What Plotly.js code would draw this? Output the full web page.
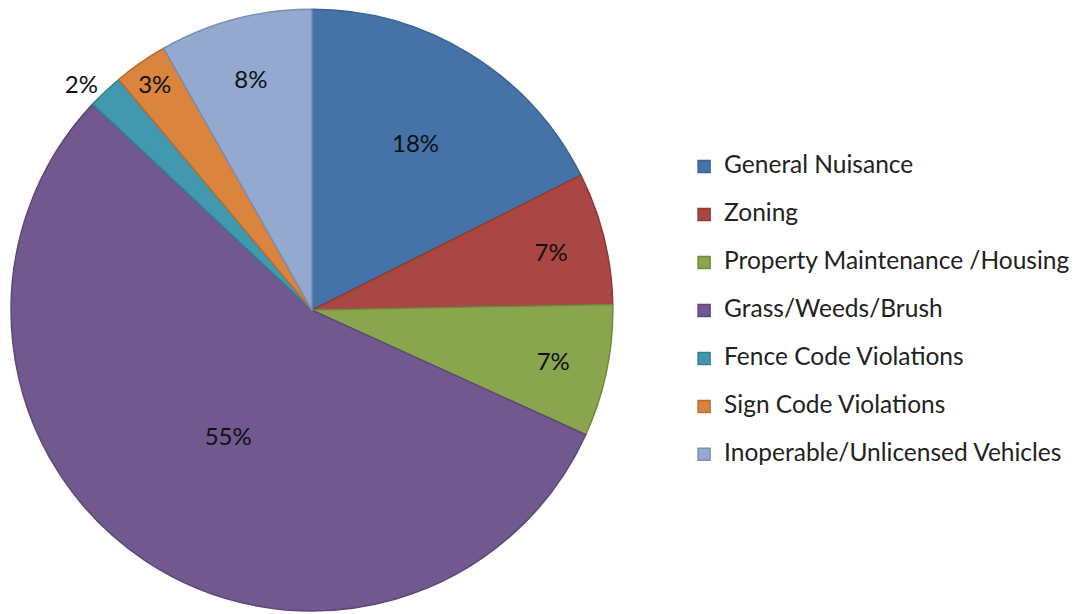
<!DOCTYPE html>
<html>
<head>
<meta charset="utf-8">
<script src="https://cdn.plot.ly/plotly-3.0.1.min.js"></script>
<style>html,body{margin:0;padding:0;background:#fff;}#chart{width:1079px;height:614px;}</style>
</head>
<body>
<div id="chart"></div>
<script>
const categories = ["General Nuisance", "Zoning", "Property Maintenance /Housing", "Grass/Weeds/Brush", "Fence Code Violations", "Sign Code Violations", "Inoperable/Unlicensed Vehicles"];
const shares = [17.6, 7.1, 7.1, 55.2, 1.9, 2.9, 8.2];
const percentLabels = ["18%", "7%", "7%", "55%", "2%", "3%", "8%"];
const sliceColors = ["#4572A7", "#AA4643", "#89A54E", "#71588F", "#4198AF", "#DB843D", "#93A9CF"];
const edgeColors = ["#3B6493", "#8F3A37", "#71893F", "#5D4877", "#357F92", "#B86E33", "#7A8FB2"];
const labelPositions = ["inside", "inside", "inside", "inside", "outside", "inside", "inside"];

const legendText = categories.map(c => '<span style="font-size:24.5px">' + c + '</span><br> ');

const fontFamily = 'Lato, "Open Sans", sans-serif';

const trace = {
  type: 'pie',
  labels: legendText,
  values: shares,
  text: percentLabels,
  textinfo: 'text',
  hoverinfo: 'label+percent',
  textposition: labelPositions,
  insidetextorientation: 'horizontal',
  sort: false,
  direction: 'clockwise',
  rotation: 0,
  marker: { colors: sliceColors, line: { color: edgeColors, width: 1.5 } },
  textfont: { family: fontFamily, size: 24, color: '#111' },
  insidetextfont: { family: fontFamily, size: 24, color: '#111' },
  outsidetextfont: { family: fontFamily, size: 24, color: '#111' },
  domain: { x: [0.0102, 0.568], y: [0.0049, 0.985] },
  automargin: false
};

const layout = {
  width: 1079, height: 614,
  margin: { l: 0, r: 0, t: 0, b: 0 },
  paper_bgcolor: '#fff',
  plot_bgcolor: '#fff',
  showlegend: true,
  legend: {
    x: 0.634, xanchor: 'left', y: 0.476, yanchor: 'middle',
    valign: 'top',
    font: { family: fontFamily, size: 17.3, color: '#222' },
    bgcolor: 'rgba(0,0,0,0)'
  }
};

Plotly.newPlot('chart', [trace], layout, { displayModeBar: false, staticPlot: true });
</script>
</body>
</html>
